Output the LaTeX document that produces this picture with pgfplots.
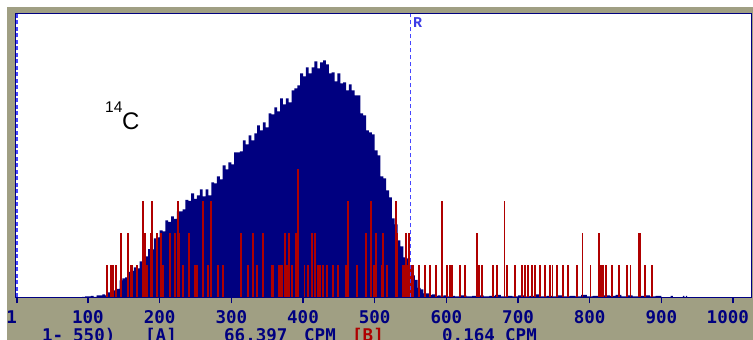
\documentclass[border=0pt]{standalone}
\usepackage{pgfplots}
\pgfplotsset{compat=1.18}
\usepackage{fontspec}
\setmainfont{Liberation Sans}
\newfontfamily\monofont{DejaVu Sans Mono}
\newfontfamily\courfont{Liberation Mono}
\definecolor{panel}{RGB}{160,159,131}
\definecolor{navyc}{RGB}{0,0,128}
\definecolor{redc}{RGB}{175,0,0}
\definecolor{dashblue}{RGB}{70,70,255}
\definecolor{rblue}{RGB}{60,60,230}
\begin{document}
\begin{tikzpicture}[x=1pt,y=1pt]
\clip (0,0) rectangle (753,340);
\fill[white] (0,0) rectangle (753,340);
\fill[panel] (7.3,0) rectangle (753,332.7);
\begin{axis}[at={(15.5pt,42.5pt)}, anchor=south west, scale only axis,
  width=736.2pt, height=284pt,
  xmin=-1.1, xmax=1026, ymin=0, ymax=284,
  axis background/.style={fill=white},
  axis line style={draw=navyc, line width=1.5pt},
  xtick={1,100,200,300,400,500,600,700,800,900,1000},
  xticklabels={{1\phantom{0}},100,200,300,400,500,600,700,800,900,{1000\phantom{0}}},
  ytick=\empty, xtick pos=bottom, xtick align=outside,
  major tick length=6pt,
  tick style={draw=navyc, line width=1.2pt},
  xticklabel style={font=\monofont\bfseries\fontsize{17.5}{17.5}\selectfont, text=navyc, inner sep=0pt, text height=13pt, text depth=0pt, anchor=north, yshift=-6.5pt},
  clip=true]
\addplot[const plot, fill=navyc, draw=none] coordinates {
(88,0) (92,0.5) (96,1) (100,1) (104,1.5) (108,0.5) (112,2) (116,2) (120,3) (124,2) (128,5) (132,4.5) (136,7) (140,8.5) (144,17) (148,19) (152,20) (156,25.5) (160,26.5) (164,30) (168,29) (172,36) (176,43.5) (180,41) (184,48.4) (188,48) (192,59) (196,60) (200,67) (204,66) (208,77) (212,75.6) (216,81) (220,78.5) (224,86) (228,86) (232,88) (236,97.5) (240,96.6) (244,104) (248,98.7) (252,102) (256,108) (260,101) (264,108) (268,102) (272,115) (276,114) (280,121) (284,118) (288,132) (292,128) (296,135) (300,133) (304,145) (308,145) (312,146) (316,157) (320,153) (324,162) (328,157) (332,164) (336,172) (340,167) (344,175) (348,170) (352,184) (356,183) (360,190) (364,186) (368,199) (372,193) (376,199) (380,195) (384,207) (388,209) (392,212) (396,224) (400,221) (404,230) (408,224) (412,230) (416,236) (420,229) (424,235) (428,237) (432,233) (436,224) (440,225) (444,216) (448,224) (452,214) (456,215) (460,207) (464,213) (468,207) (472,202) (476,202) (480,184) (484,182) (488,167) (492,165) (496,163) (500,147) (504,142) (508,121) (512,119) (516,107) (520,100) (524,79) (528,73) (532,57) (536,51) (540,40) (544,39) (548,30) (552,22) (556,17.5) (560,9.5) (564,8) (568,4) (572,4) (576,2.5) (580,3) (584,1.5) (588,2) (592,1) (596,2) (600,1) (604,1.5) (612,1) (620,2) (628,1) (636,1.5) (644,2) (652,1) (660,1.5) (668,2.5) (676,1) (684,1.5) (692,1) (700,2) (708,1) (716,1.5) (724,3) (732,1) (740,1.5) (748,1) (756,2) (764,1) (772,1.5) (780,1) (788,2.5) (796,1) (804,1.5) (812,1) (820,2) (828,1.5) (836,2.5) (844,1) (852,2) (860,1) (868,1.5) (876,2) (884,1) (892,1.5) (900,0) (912,0) (913,1.5) (916,0) (929,0) (930,1.5) (932,0) (934,1.5) (936,0)
} \closedcycle;
\addplot[ycomb, draw=redc, line width=1.8pt, mark=none] coordinates {
(126,32.5) (132,32.5) (135,32.5) (139,32.5) (146,64.3) (156,64.3) (160,32.5) (162,32.5) (168,32.5) (177,96.2) (180,64.3) (182,32.5) (188,64.3) (189,96.2) (196,64.3) (202,64.3) (205,32.5) (215,64.3) (221,64.3) (226,96.2) (227,64.3) (233,32.5) (241,64.3) (249,32.5) (252,32.5) (261,96.2) (268,32.5) (272,96.2) (281,32.5) (288,32.5) (314,64.3) (323,32.5) (330,64.3) (336,32.5) (344,64.3) (357,32.5) (358,32.5) (367,32.5) (369,32.5) (371,32.5) (375,64.3) (378,32.5) (381,64.3) (385,32.5) (390,64.3) (393,128) (402,32.5) (407,32.5) (413,64.3) (417,64.3) (421,32.5) (424,32.5) (428,32.5) (434,32.5) (442,32.5) (449,32.5) (460,32.5) (463,96.2) (475,32.5) (488,64.3) (495,96.2) (499,32.5) (502,64.3) (510,32.5) (512,64.3) (517,32.5) (530,96.2) (531,64.3) (540,32.5) (542,32.5) (544,64.3) (546,32.5) (548,64.3) (551,32.5) (553,32.5) (562,32.5) (570,32.5) (577,32.5) (586,32.5) (594,96.2) (601,32.5) (605,32.5) (608,32.5) (619,32.5) (626,32.5) (643,64.3) (646,32.5) (650,32.5) (665,32.5) (671,32.5) (681,96.2) (685,32.5) (696,32.5) (705,32.5) (710,32.5) (714,32.5) (719,32.5) (724,32.5) (731,32.5) (738,32.5) (745,32.5) (748,32.5) (754,32.5) (763,32.5) (770,32.5) (782,32.5) (790,64.3) (801,32.5) (813,64.3) (816,32.5) (819,32.5) (823,32.5) (831,32.5) (841,32.5) (852,32.5) (857,32.5) (869,64.3) (870,64.3) (877,32.5) (887,32.5)
};
\draw[dashblue, line width=1.2pt, dash pattern=on 4pt off 2.5pt] (axis cs:1,0) -- (axis cs:1,284);
\draw[dashblue, line width=1.2pt, dash pattern=on 4pt off 3pt] (axis cs:550,0) -- (axis cs:550,284);
\end{axis}
\draw[navyc, line width=1.5pt] (15.5,42.5) rectangle (751.7,326.5);
% 14C label
\node[anchor=base west, inner sep=0pt, font=\fontsize{15.5}{15.5}\selectfont] at (105,227) {14};
\node[anchor=base west, inner sep=0pt, font=\fontsize{24}{24}\selectfont] at (122,210) {C};
% R label
\node[anchor=base west, inner sep=0pt, text=rblue, font=\courfont\bfseries\fontsize{15}{15}\selectfont] at (413,312) {R};
% bottom status line
\begin{scope}[every node/.style={anchor=base west, inner sep=0pt, font=\monofont\bfseries\fontsize{17.5}{17.5}\selectfont, text=navyc}]
\node at (42,-1.5) {1-};
\node at (73,-1.5) {550)};
\node at (145,-1.5) {[A]};
\node at (224,-1.5) {66.397};
\node at (304,-1.5) {CPM};
\node[text=redc] at (352,-1.5) {[B]};
\node at (442,-1.5) {0.164};
\node at (505,-1.5) {CPM};
\end{scope}
\end{tikzpicture}
\end{document}
